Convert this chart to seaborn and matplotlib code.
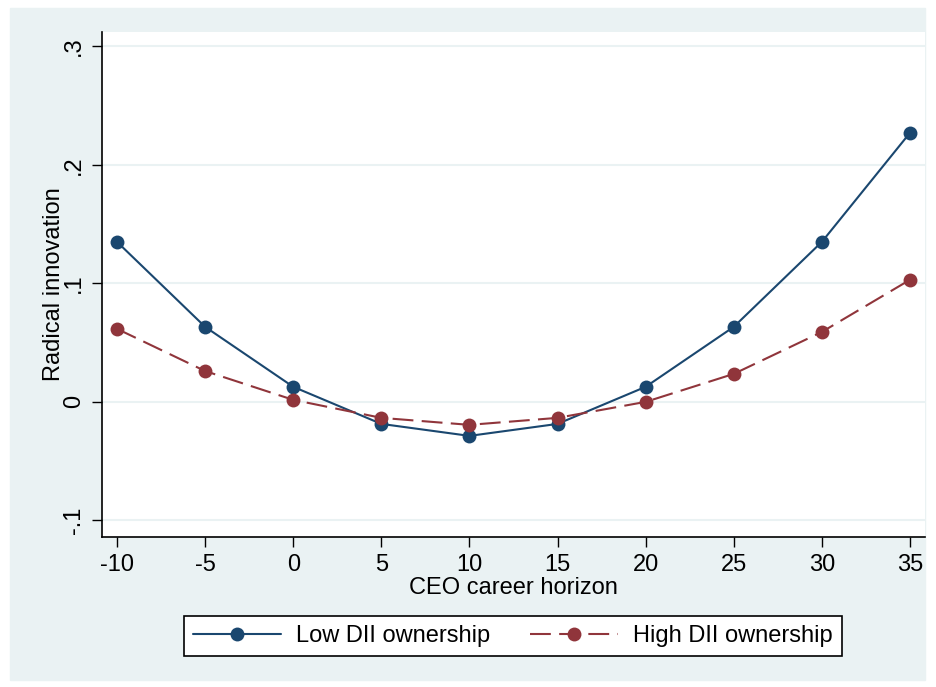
import pandas as pd
import matplotlib.pyplot as plt
import seaborn as sns

# CEO career horizon and predicted radical innovation
horizon = [-10, -5, 0, 5, 10, 15, 20, 25, 30, 35]
low_dii = [0.135, 0.0633, 0.0127, -0.0186, -0.0287, -0.0186, 0.0127, 0.0633, 0.135, 0.227]
high_dii = [0.0616, 0.026, 0.0017, -0.0135, -0.0194, -0.0135, 0.0, 0.0236, 0.059, 0.103]
groups = ['Low DII ownership', 'High DII ownership']

y_ticks = [-0.1, 0, 0.1, 0.2, 0.3]
y_ticklabels = ['-.1', '0', '.1', '.2', '.3']

data = pd.DataFrame({
    'horizon': horizon * 2,
    'value': low_dii + high_dii,
    'group': [groups[0]] * len(horizon) + [groups[1]] * len(horizon),
})

sns.set_style('white')
plt.rcParams['font.family'] = ['Liberation Sans', 'DejaVu Sans']
plt.rcParams['text.color'] = 'black'
plt.rcParams['axes.labelcolor'] = 'black'
plt.rcParams['xtick.color'] = 'black'
plt.rcParams['ytick.color'] = 'black'

fs = 17
bg = '#EAF2F3'
fig = plt.figure(figsize=(9.36, 6.87), dpi=100)
fig.patch.set_facecolor('white')
# outer Stata-style background panel
fig.patches.append(plt.Rectangle((10 / 936, 1 - 680 / 687), 915 / 936, 672 / 687,
                                 transform=fig.transFigure, color=bg, zorder=-5))
ax = fig.add_axes([102 / 936, 1 - 537 / 687, 823 / 936, 505 / 687])
ax.set_facecolor('white')

sns.lineplot(data=data, x='horizon', y='value', hue='group', style='group',
             palette={groups[0]: '#1A476F', groups[1]: '#90353B'},
             dashes={groups[0]: '', groups[1]: (10, 4)},
             markers={groups[0]: 'o', groups[1]: 'o'},
             markersize=10, markeredgewidth=0, linewidth=1.5, ax=ax, legend=False)

ax.set_xlim(-10.85, 35.85)
ax.set_ylim(-0.114, 0.312)
ax.set_xticks(horizon)
ax.set_xticklabels([str(h) for h in horizon], fontsize=fs)
ax.set_yticks(y_ticks)
ax.set_yticklabels(y_ticklabels, fontsize=fs, rotation=90, va='center')
ax.grid(axis='y', color=bg, linewidth=1.5)
ax.set_axisbelow(True)

for side in ['top', 'right']:
    ax.spines[side].set_visible(False)
for side in ['left', 'bottom']:
    ax.spines[side].set_color('black')
    ax.spines[side].set_linewidth(1.2)
ax.tick_params(axis='both', direction='out', length=7, width=1, color='black',
               left=True, bottom=True, pad=5)

ax.set_xlabel('CEO career horizon', fontsize=fs, labelpad=1)
ax.set_ylabel('Radical innovation', fontsize=fs, labelpad=-1)

handles = [
    plt.Line2D([], [], color='#1A476F', lw=1.5, marker='o', markersize=10, markeredgewidth=0),
    plt.Line2D([], [], color='#90353B', lw=1.5, marker='o', markersize=10, markeredgewidth=0,
               dashes=(10, 4)),
]
leg = fig.legend(handles, groups, loc='center', bbox_to_anchor=(513 / 936, 1 - 636 / 687),
                 ncol=2, fontsize=fs, frameon=True, fancybox=False, handlelength=3.7,
                 columnspacing=1.7, borderpad=0.4, handletextpad=0.65, framealpha=1,
                 borderaxespad=0)
leg.get_frame().set_edgecolor('black')
leg.get_frame().set_linewidth(1.2)
leg.get_frame().set_facecolor('white')

fig.savefig('out.png', dpi=100)
